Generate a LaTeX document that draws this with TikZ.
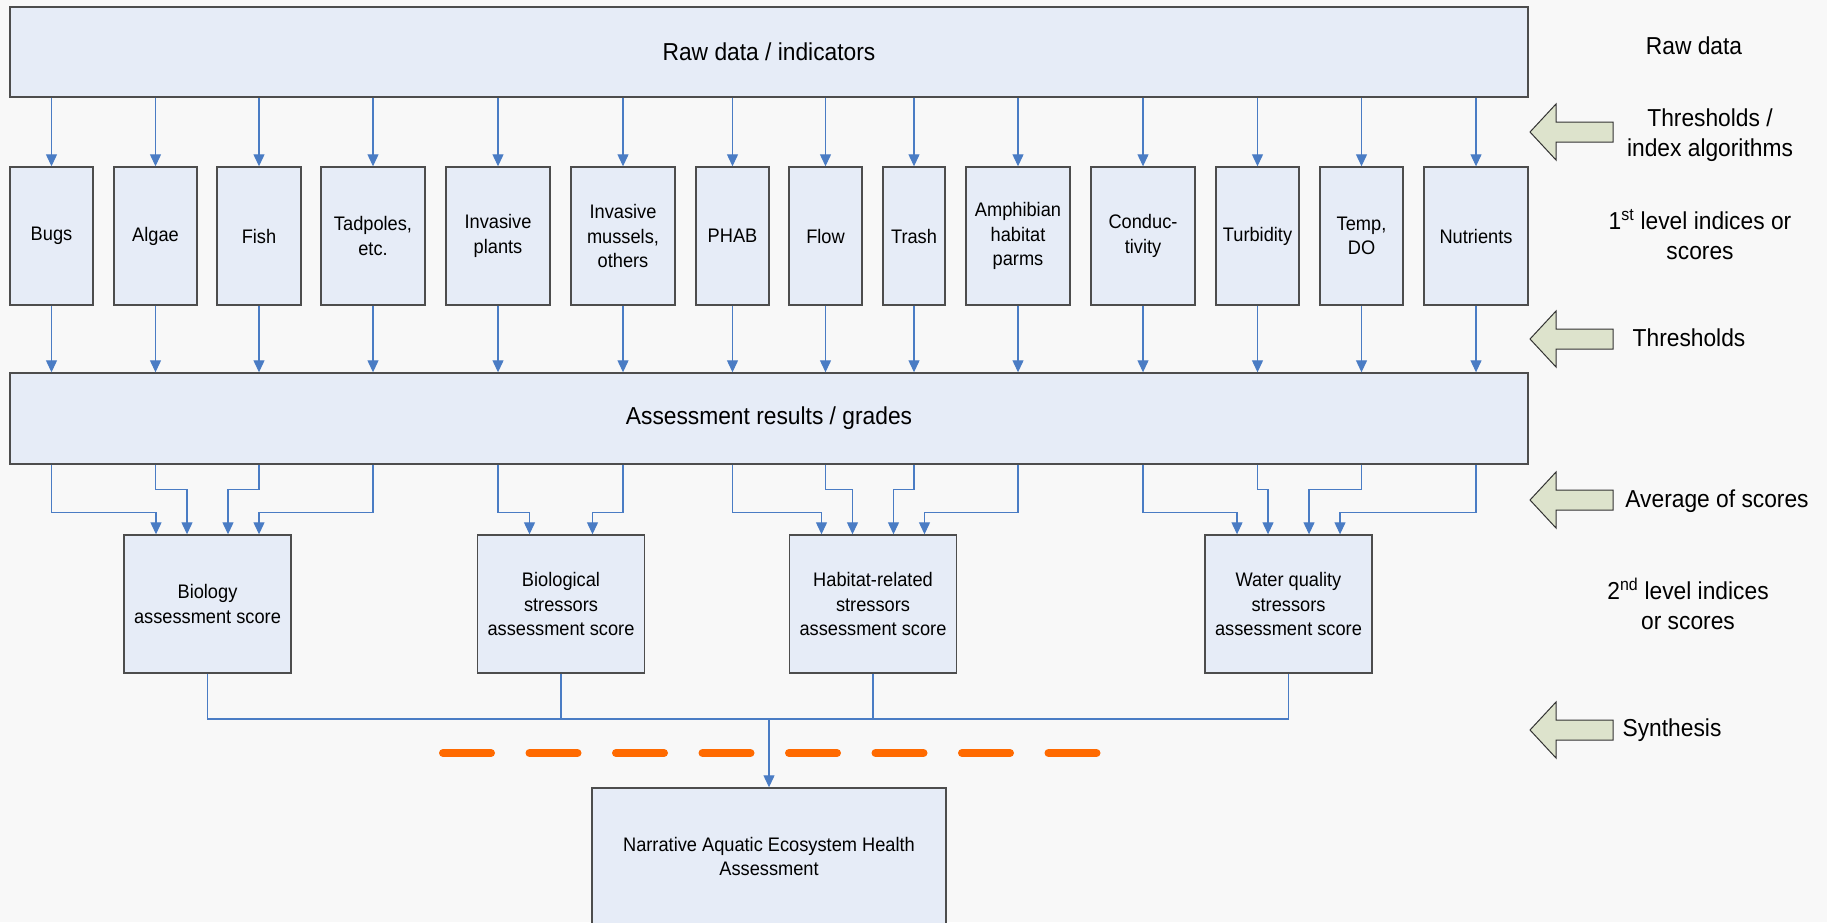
\documentclass[tikz,border=0pt]{standalone}
\usepackage{fontspec}
\setmainfont{Liberation Sans}[FakeStretch=0.93]
\usetikzlibrary{arrows.meta,calc}
\definecolor{boxfill}{HTML}{E6ECF7}
\definecolor{boxdraw}{HTML}{4D4D4D}
\definecolor{conncol}{HTML}{4A7CC4}
\definecolor{blockfill}{HTML}{DDE3CC}
\definecolor{dashorange}{HTML}{FF6A00}
\definecolor{bgcol}{HTML}{F8F8F8}
\begin{document}
\begin{tikzpicture}[x=1pt,y=-1pt,
  box/.style={draw=boxdraw, line width=1.4pt, fill=boxfill, inner sep=2pt, align=center, text=black},
  lone/.style={box, minimum height=138pt, font=\fontsize{19.6}{24.6}\selectfont},
  ltwo/.style={box, minimum width=167pt, minimum height=138pt, font=\fontsize{19.6}{24.2}\selectfont},
  wide/.style={box, minimum width=1518pt, minimum height=90pt, font=\fontsize{24.5}{29}\selectfont},
  conn/.style={draw=conncol, line width=1.2pt, -{Triangle[width=11pt,length=12pt]}},
  link/.style={draw=conncol, line width=1.2pt},
  side/.style={align=center, font=\fontsize{24.5}{30}\selectfont},
  blockarrow/.style={draw=black!80, line width=1pt, fill=blockfill, line join=miter}
]
\useasboundingbox (0,0) rectangle (1827,922);
\fill[bgcol] (0,0) rectangle (1827,922);

% top and middle wide boxes
\node[wide] (raw) at (769,52) {Raw data / indicators};
\node[wide, minimum height=91pt] (assess) at (769,418.5) {Assessment results / grades};

% first level boxes
\node[lone, minimum width=83pt] (bugs) at (51.5,236) {Bugs};
\node[lone, minimum width=83pt] (algae) at (155.5,236) {Algae};
\node[lone, minimum width=84pt] (fish) at (259,236) {Fish};
\node[lone, minimum width=104pt] (tadpoles) at (373,236) {Tadpoles,\\etc.};
\node[lone, minimum width=104pt] (invplants) at (498,236) {Invasive\\plants};
\node[lone, minimum width=104pt] (invmussels) at (623,236) {Invasive\\mussels,\\others};
\node[lone, minimum width=73pt] (phab) at (732.5,236) {PHAB};
\node[lone, minimum width=73pt] (flow) at (825.5,236) {Flow};
\node[lone, minimum width=62pt] (trash) at (914,236) {Trash};
\node[lone, minimum width=104pt] (amphib) at (1018,236) {Amphibian\\habitat\\parms};
\node[lone, minimum width=104pt] (cond) at (1143,236) {Conduc-\\tivity};
\node[lone, minimum width=83pt] (turb) at (1257.5,236) {Turbidity};
\node[lone, minimum width=83pt] (temp) at (1361.5,236) {Temp,\\DO};
\node[lone, minimum width=104pt] (nutr) at (1476,236) {Nutrients};

% second level boxes
\node[ltwo] (biology) at (207.5,604) {Biology\\assessment score};
\node[ltwo] (biostress) at (561,604) {Biological\\stressors\\assessment score};
\node[ltwo] (habitat) at (873,604) {Habitat-related\\stressors\\assessment score};
\node[ltwo] (water) at (1288.5,604) {Water quality\\stressors\\assessment score};

% narrative box
\node[box, minimum width=354pt, minimum height=137pt, font=\fontsize{19.6}{23.4}\selectfont] (narr) at (769,856.5) {Narrative Aquatic Ecosystem Health\\Assessment};

% raw -> level 1 -> assessment
\foreach \n in {bugs,algae,fish,tadpoles,invplants,invmussels,phab,flow,trash,amphib,cond,turb,temp,nutr}{
  \draw[conn] (raw.south -| \n) -- (\n.north);
  \draw[conn] (\n.south) -- (\n.south |- assess.north);
}

% assessment -> level 2
\foreach \n/\t/\dx/\dy in {bugs/biology/-51.5/48, algae/biology/-20.5/25, fish/biology/20.5/25, tadpoles/biology/51.5/48,
  invplants/biostress/-31.5/48, invmussels/biostress/31.5/48,
  phab/habitat/-51.5/48, flow/habitat/-20.5/25, trash/habitat/20.5/25, amphib/habitat/51.5/48,
  cond/water/-51.5/48, turb/water/-20.5/25, temp/water/20.5/25, nutr/water/51.5/48}{
  \draw[conn] (assess.south -| \n) -- ++(0,\dy) -| ([xshift=\dx pt]\t.north);
}

% synthesis
\coordinate (merge) at (769,719);
\draw[link] (biology.south) |- (water.south |- merge) -- (water.south);
\draw[link] (biostress.south) -- (biostress.south |- merge);
\draw[link] (habitat.south) -- (habitat.south |- merge);
\draw[conn] (merge) -- (narr.north);

% orange dashed line
\draw[dashorange, line width=8pt, line cap=round, dash pattern=on 48pt off 38.5pt] (443,753) -- (1096.5,753);

% block arrows
\foreach \cy in {132,339,500,730}{
  \draw[blockarrow] (1530,\cy) -- (1556,\cy-28) -- (1556,\cy-10) -- (1613,\cy-10) -- (1613,\cy+10) -- (1556,\cy+10) -- (1556,\cy+28) -- cycle;
}

% side labels
\node[side] (lraw) at (1694,46) {Raw data};
\node[side] (lthr) at (1710,135) {Thresholds /\\index algorithms};
\node[side] (lfirst) at (1700,235) {1\textsuperscript{st} level indices or\\scores};
\node[side] (lthr2) at (1689,338) {Thresholds};
\node[side] (lavg) at (1717,501) {Average of scores};
\node[side] (lsecond) at (1688,604) {2\textsuperscript{nd} level indices\\or scores};
\node[side] (lsyn) at (1672,730) {Synthesis};
\end{tikzpicture}
\end{document}
